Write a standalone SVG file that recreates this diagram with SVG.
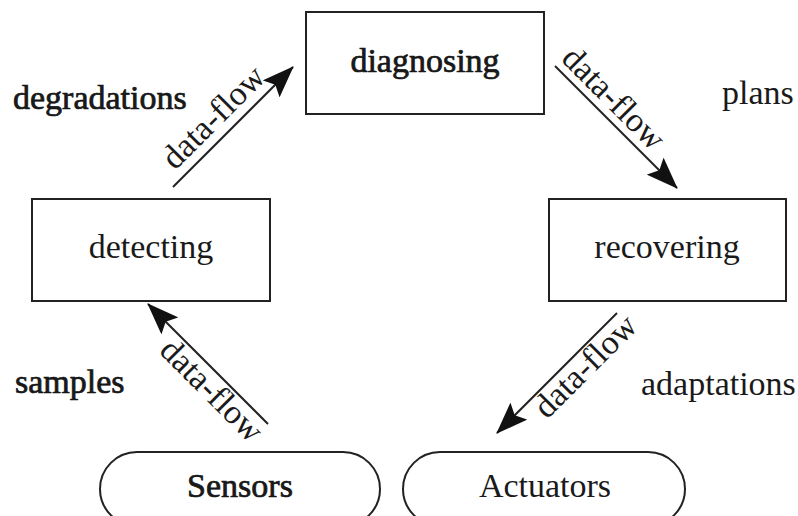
<svg xmlns="http://www.w3.org/2000/svg" width="798" height="516" viewBox="0 0 798 516">
<style>
text{font-family:"Liberation Serif","Times New Roman",serif;font-size:34px;fill:#1a1a1a}
.dark{stroke:#111;stroke-width:0.7}
.box{fill:#fff;stroke:#222;stroke-width:2}
.edge{stroke:#222;stroke-width:2;fill:none;marker-end:url(#ah)}
.mid{text-anchor:middle}
</style>
<defs>
<marker id="ah" markerUnits="userSpaceOnUse" markerWidth="32" markerHeight="24" refX="31" refY="12" orient="auto">
<path d="M0,0 L32,12 L0,24 L6,12 z" fill="#111"/>
</marker>
</defs>
<rect width="798" height="516" fill="#fff"/>
<g id="diagnosing"><rect class="box" x="306" y="12" width="238" height="102"/><text class="mid dark" x="425" y="72">diagnosing</text></g>
<g id="detecting"><rect class="box" x="32" y="199" width="238" height="102"/><text class="mid" x="151" y="258">detecting</text></g>
<g id="recovering"><rect class="box" x="549" y="199" width="237" height="102"/><text class="mid" x="667" y="258">recovering</text></g>
<g id="sensors"><rect class="box" x="100" y="452" width="280" height="74" rx="37"/><text class="mid dark" x="240" y="497">Sensors</text></g>
<g id="actuators"><rect class="box" x="403" y="452" width="282" height="74" rx="37"/><text class="mid" x="545" y="497">Actuators</text></g>
<g id="connectors">
<line class="edge" x1="173" y1="187" x2="293" y2="67"/>
<line class="edge" x1="555" y1="66" x2="677" y2="188"/>
<line class="edge" x1="268" y1="424" x2="148" y2="304"/>
<line class="edge" x1="617" y1="313" x2="497" y2="433"/>
<text class="mid" x="221" y="125" transform="rotate(-45 221 125)">data-flow</text>
<text class="mid" x="606" y="106" transform="rotate(45 606 106)">data-flow</text>
<text class="mid" x="204" y="398" transform="rotate(45 204 398)">data-flow</text>
<text class="mid" x="593" y="374" transform="rotate(-45 593 374)">data-flow</text>
</g>
<g id="labels">
<text class="dark" x="13" y="109">degradations</text>
<text x="722" y="104">plans</text>
<text class="dark" x="15" y="393">samples</text>
<text x="641" y="395">adaptations</text>
</g>
</svg>
